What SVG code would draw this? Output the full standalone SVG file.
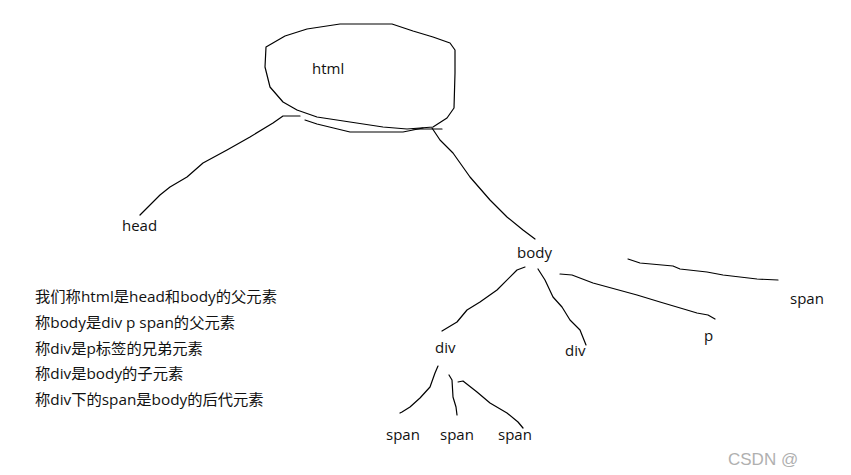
<svg xmlns="http://www.w3.org/2000/svg" width="851" height="475" viewBox="0 0 851 475">
<style>
.ln{fill:none;stroke:#000;stroke-width:1.2;stroke-linejoin:round;stroke-linecap:round}
.lb{font-family:"Open Sans","Noto Sans CJK SC",sans-serif;font-size:15px;fill:#111}
.nt{font-family:"Open Sans","Noto Sans CJK SC",sans-serif;font-size:15.3px;fill:#111}
.wm{font-family:"Liberation Sans",Arial,sans-serif;font-size:17px;fill:#b0b0b0}
</style>
<rect width="851" height="475" fill="#fff"/>
<g id="connectors">
<path class="ln" d="M297,110 L283,102 L270,87 L265,67 L266,47 L285,36 L307,29 L340,24 L392,24 L413,31 L433,37 L450,43 L455,50 L455,73 L454,108 L447,118 L433,127 L407,129 L383,127 L350,122 L317,117 L297,110"/>
<path class="ln" d="M305,120 L317,124 L350,132 L403,132 L423,128"/>
<path class="ln" d="M413,129 L442,129"/>
<path class="ln" d="M300,116 L283,116 L273,123 L250,137 L227,150 L203,163 L187,177 L170,187 L160,195 L148,207 L140,215"/>
<path class="ln" d="M432,128 L440,140 L453,153 L470,177 L490,200 L507,217 L523,230 L535,239"/>
<path class="ln" d="M525,267 L517,270 L497,290 L480,302 L467,310 L457,322 L442,331"/>
<path class="ln" d="M538,269 L545,280 L553,297 L562,307 L570,320 L580,330 L586,345"/>
<path class="ln" d="M560,274 L572,275 L593,283 L637,295 L660,302 L687,310 L697,313 L708,315 L715,319"/>
<path class="ln" d="M628,259 L640,263 L673,266 L680,269 L707,272 L723,275 L757,279 L778,280"/>
<path class="ln" d="M438,366 L435,373 L430,387 L420,398 L410,407 L402,412 L400,413"/>
<path class="ln" d="M449,375 L452,380 L453,397 L456,407 L457,415"/>
<path class="ln" d="M458,382 L463,381 L477,392 L490,403 L507,413 L518,422 L523,428"/>
</g>
<g id="n-html"><text class="lb" x="312" y="74">html</text></g>
<g id="n-head"><text class="lb" x="122" y="231">head</text></g>
<g id="n-body"><text class="lb" x="517" y="258">body</text></g>
<g id="n-span-r"><text class="lb" x="790" y="304">span</text></g>
<g id="n-p"><text class="lb" x="704" y="341">p</text></g>
<g id="n-div1"><text class="lb" x="435" y="353">div</text></g>
<g id="n-div2"><text class="lb" x="565" y="356">div</text></g>
<g id="n-span1"><text class="lb" x="386" y="440">span</text></g>
<g id="n-span2"><text class="lb" x="440" y="440">span</text></g>
<g id="n-span3"><text class="lb" x="498" y="440">span</text></g>
<g id="notes">
<text class="nt" x="35" y="302">我们称html是head和body的父元素</text>
<text class="nt" x="35" y="328">称body是div p span的父元素</text>
<text class="nt" x="35" y="354">称div是p标签的兄弟元素</text>
<text class="nt" x="35" y="379">称div是body的子元素</text>
<text class="nt" x="35" y="405">称div下的span是body的后代元素</text>
</g>
<g id="watermark"><text class="wm" x="728" y="465">CSDN @</text></g>
</svg>
